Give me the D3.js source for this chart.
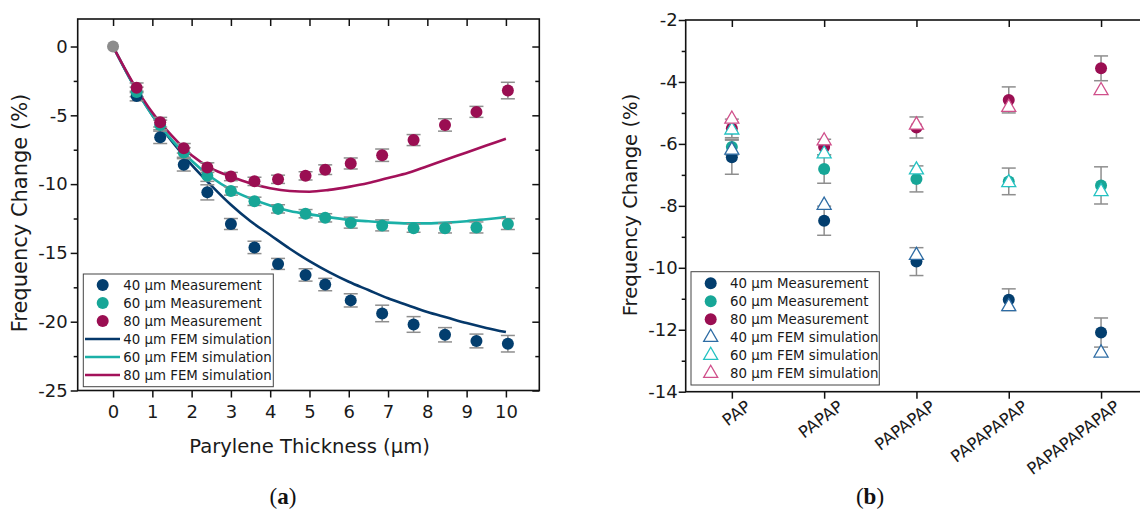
<!DOCTYPE html>
<html><head><meta charset="utf-8">
<script src="https://cdn.jsdelivr.net/npm/d3@7"></script>
<style>
body{margin:0;background:#fff;}
svg{display:block;font-family:"DejaVu Sans",sans-serif;}
</style>
</head><body>
<svg id="c" width="1140" height="514"></svg>
<script>
// ---------- Panel (a) data ----------
const thickness = [0, 0.6, 1.2, 1.8, 2.4, 3.0, 3.6, 4.2, 4.9, 5.4, 6.05, 6.85, 7.65, 8.45, 9.25, 10.05];
const meas40 = [0, -3.6, -6.6, -8.6, -10.6, -12.9, -14.6, -15.8, -16.6, -17.3, -18.45, -19.4, -20.2, -20.95, -21.4, -21.6];
const err40  = [0, 0.35, 0.45, 0.45, 0.55, 0.4, 0.45, 0.4, 0.45, 0.45, 0.48, 0.6, 0.57, 0.52, 0.5, 0.6];
const meas60 = [0, -3.3, -5.7, -7.7, -9.4, -10.5, -11.25, -11.8, -12.15, -12.45, -12.8, -13.0, -13.2, -13.2, -13.15, -12.9];
const err60  = [0, 0.35, 0.35, 0.35, 0.4, 0.3, 0.3, 0.3, 0.3, 0.3, 0.4, 0.4, 0.3, 0.35, 0.4, 0.4];
const meas80 = [0, -3.0, -5.5, -7.4, -8.8, -9.45, -9.8, -9.65, -9.4, -8.95, -8.5, -7.9, -6.8, -5.7, -4.75, -3.2];
const err80  = [0, 0.35, 0.35, 0.35, 0.35, 0.3, 0.3, 0.3, 0.3, 0.35, 0.4, 0.45, 0.4, 0.45, 0.4, 0.6];

const femX  = [0, 0.5, 1, 1.5, 2, 2.5, 3, 3.5, 4, 4.5, 5, 5.5, 6, 6.5, 7, 7.5, 8, 8.5, 9, 9.5, 10];
const fem40 = [0, -2.7, -5.0, -6.9, -8.6, -10.1, -11.5, -12.7, -13.7, -14.7, -15.6, -16.4, -17.1, -17.7, -18.3, -18.8, -19.3, -19.7, -20.1, -20.45, -20.75];
const fem60 = [0, -2.7, -5.0, -6.8, -8.3, -9.5, -10.4, -11.05, -11.55, -11.95, -12.2, -12.4, -12.6, -12.7, -12.8, -12.85, -12.85, -12.8, -12.7, -12.55, -12.4];
const fem80 = [0, -2.6, -4.8, -6.5, -7.9, -8.85, -9.45, -9.95, -10.3, -10.5, -10.55, -10.42, -10.2, -9.92, -9.55, -9.2, -8.7, -8.2, -7.7, -7.2, -6.7];

const xTicksA = [0, 1, 2, 3, 4, 5, 6, 7, 8, 9, 10];
const yTicksA = [0, -5, -10, -15, -20, -25];
const yMinorA = [-2.5, -7.5, -12.5, -17.5, -22.5];

// ---------- Panel (b) data ----------
const structures = ["PAP", "PAPAP", "PAPAPAP", "PAPAPAPAP", "PAPAPAPAPAP"];
const measB40 = [-6.43, -8.48, -9.8, -11.03, -12.09];
const errB40  = [0.55, 0.47, 0.45, 0.35, 0.47];
const measB60 = [-6.1, -6.81, -7.13, -7.21, -7.34];
const errB60  = [0.25, 0.46, 0.42, 0.43, 0.6];
const measB80 = [-5.5, -6.1, -5.47, -4.58, -3.56];
const errB80  = [0.3, 0.25, 0.34, 0.42, 0.4];
const simB40  = [-6.2, -7.98, -9.6, -11.25, -12.75];
const simB60  = [-5.55, -6.32, -6.84, -7.25, -7.54];
const simB80  = [-5.2, -5.9, -5.39, -4.82, -4.28];

const yTicksB = [-2, -4, -6, -8, -10, -12, -14];
const yMinorB = [-3, -5, -7, -9, -11, -13];

const legendLabels = ["40 µm Measurement", "60 µm Measurement", "80 µm Measurement",
                      "40 µm FEM simulation", "60 µm FEM simulation", "80 µm FEM simulation"];

// ---------- styling ----------
const C40 = "#033e6e", C60 = "#17a697", C80 = "#9a0e52";
const L40 = "#05386a", L60 = "#1bb0a7", L80 = "#a3115a";
const T40 = "#2e6ca4", T60 = "#25c2c2", T80 = "#d0508b";
const ERR = "#8e8e8e";

const svg = d3.select("#c");

function drawAxes(g, x, y, box, xTicks, yTicks, yMinor, showXLabels, yPad) {
  const fmt = d => String(d);
  const bottom = g.append("g").attr("transform", `translate(0,${box.b})`)
    .call(d3.axisBottom(x).tickValues(xTicks).tickSize(7).tickPadding(8)
      .tickFormat(showXLabels ? fmt : ""));
  const top = g.append("g").attr("transform", `translate(0,${box.t})`)
    .call(d3.axisTop(x).tickValues(xTicks).tickSize(-7).tickFormat(""));
  const left = g.append("g").attr("transform", `translate(${box.l},0)`)
    .call(d3.axisLeft(y).tickValues(yTicks).tickSize(7).tickPadding(yPad).tickFormat(fmt));
  const leftMinor = g.append("g").attr("transform", `translate(${box.l},0)`)
    .call(d3.axisLeft(y).tickValues(yMinor).tickSize(4).tickFormat(""));
  const right = g.append("g").attr("transform", `translate(${box.r},0)`)
    .call(d3.axisRight(y).tickValues(yTicks).tickSize(-7).tickFormat(""));
  const rightMinor = g.append("g").attr("transform", `translate(${box.r},0)`)
    .call(d3.axisRight(y).tickValues(yMinor).tickSize(-4).tickFormat(""));
  [bottom, top, left, leftMinor, right, rightMinor].forEach(a => {
    a.select(".domain").remove();
    a.selectAll("line").attr("stroke", "#111").attr("stroke-width", 1.5);
    a.selectAll("text").attr("fill", "#1a1a1a").attr("font-family", "DejaVu Sans");
  });
  g.append("rect").attr("x", box.l).attr("y", box.t)
    .attr("width", box.r - box.l).attr("height", box.b - box.t)
    .attr("fill", "none").attr("stroke", "#111").attr("stroke-width", 1.6);
  return {bottom, left};
}

function errorBars(g, xs, ys, es, x, y, capW) {
  xs.forEach((xv, i) => {
    if (!es[i]) return;
    const px = x(xv), y1 = y(ys[i] + es[i]), y2 = y(ys[i] - es[i]);
    g.append("line").attr("x1", px).attr("x2", px).attr("y1", y1).attr("y2", y2)
      .attr("stroke", ERR).attr("stroke-width", 1.5);
    [y1, y2].forEach(yy => g.append("line").attr("x1", px - capW/2).attr("x2", px + capW/2)
      .attr("y1", yy).attr("y2", yy).attr("stroke", ERR).attr("stroke-width", 1.5));
  });
}

// ================= Panel (a) =================
const A = {l: 77.7, r: 539.3, t: 19, b: 390.5};
const xA = d3.scaleLinear().domain([-0.9, 10.85]).range([A.l, A.r]);
const yA = d3.scaleLinear().domain([-25, 2]).range([A.b, A.t]);
const gA = svg.append("g");
const axA = drawAxes(gA, xA, yA, A, xTicksA, yTicksA, yMinorA, true, 3);
axA.bottom.selectAll("text").attr("font-size", 18);
axA.left.selectAll("text").attr("font-size", 18);

const line = d3.line().x(d => xA(d[0])).y(d => yA(d[1])).curve(d3.curveMonotoneX);
[[fem40, L40], [fem60, L60], [fem80, L80]].forEach(([vals, col]) => {
  gA.append("path").attr("d", line(femX.map((xv, i) => [xv, vals[i]])))
    .attr("fill", "none").attr("stroke", col).attr("stroke-width", 2.6);
});

errorBars(gA, thickness, meas40, err40, xA, yA, 14);
errorBars(gA, thickness, meas60, err60, xA, yA, 14);
errorBars(gA, thickness, meas80, err80, xA, yA, 14);

[[meas40, C40], [meas60, C60], [meas80, C80]].forEach(([vals, col]) => {
  thickness.forEach((xv, i) => {
    if (i === 0) return;
    gA.append("circle").attr("cx", xA(xv)).attr("cy", yA(vals[i])).attr("r", 6).attr("fill", col);
  });
});
// common origin point
gA.append("circle").attr("cx", xA(thickness[0])).attr("cy", yA(meas40[0])).attr("r", 6).attr("fill", "#8c8c8c");

// axis titles
gA.append("text").attr("x", 309.6).attr("y", 453).attr("text-anchor", "middle")
  .attr("font-size", 19.6).attr("fill", "#1a1a1a").text("Parylene Thickness (µm)");
gA.append("text").attr("transform", "translate(27,213) rotate(-90)").attr("text-anchor", "middle")
  .attr("font-size", 21).attr("fill", "#1a1a1a").text("Frequency Change (%)");

// legend (a)
const legA = gA.append("g");
legA.append("rect").attr("x", 83.3).attr("y", 274).attr("width", 190).attr("height", 112.7)
  .attr("fill", "#fff").attr("stroke", "#444").attr("stroke-width", 1);
const legColsA = [C40, C60, C80, L40, L60, L80];
legendLabels.forEach((lab, i) => {
  const yy = 285 + i * 18;
  if (i < 3) legA.append("circle").attr("cx", 102.7).attr("cy", yy).attr("r", 6).attr("fill", legColsA[i]);
  else legA.append("line").attr("x1", 85).attr("x2", 120).attr("y1", yy).attr("y2", yy)
    .attr("stroke", legColsA[i]).attr("stroke-width", 2.6);
  legA.append("text").attr("x", 123.3).attr("y", yy).attr("dy", "0.36em")
    .attr("font-size", 13.35).attr("fill", "#1a1a1a").text(lab);
});

// ================= Panel (b) =================
const B = {l: 685.7, r: 1147.2, t: 20, b: 391.7};
const idx = structures.map((s, i) => i);
const xB = d3.scaleLinear().domain([-0.5, structures.length - 0.5]).range([B.l, B.r]);
const yB = d3.scaleLinear().domain([-14, -2]).range([B.b, B.t]);
const gB = svg.append("g");
const axB = drawAxes(gB, xB, yB, B, idx, yTicksB, yMinorB, false, 1);
axB.left.selectAll("text").attr("font-size", 18);

// rotated category labels
structures.forEach((s, i) => {
  gB.append("text").attr("text-anchor", "end")
    .attr("transform", `translate(${xB(i) + 20},${B.b + 17}) rotate(-37)`)
    .attr("font-size", 16.5).attr("fill", "#1a1a1a").text(s);
});

errorBars(gB, idx, measB40, errB40, xB, yB, 14);
errorBars(gB, idx, measB60, errB60, xB, yB, 14);
errorBars(gB, idx, measB80, errB80, xB, yB, 14);
// measurement circles
[[measB40, C40], [measB60, C60], [measB80, C80]].forEach(([vals, col]) => {
  vals.forEach((v, i) => gB.append("circle").attr("cx", xB(i)).attr("cy", yB(v)).attr("r", 6).attr("fill", col));
});

const tri = d3.symbol().type(d3.symbolTriangle).size(85);
[[simB40, T40], [simB60, T60], [simB80, T80]].forEach(([vals, col]) => {
  vals.forEach((v, i) => gB.append("path").attr("d", tri())
    .attr("transform", `translate(${xB(i)},${yB(v)})`)
    .attr("fill", "#fff").attr("stroke", col).attr("stroke-width", 1.3));
});

gB.append("text").attr("transform", "translate(637,205) rotate(-90)").attr("text-anchor", "middle")
  .attr("font-size", 19.6).attr("fill", "#1a1a1a").text("Frequency Change (%)");

// legend (b)
const legB = gB.append("g");
legB.append("rect").attr("x", 691).attr("y", 271.7).attr("width", 188.3).attr("height", 113.3)
  .attr("fill", "#fff").attr("stroke", "#444").attr("stroke-width", 1);
const legColsB = [C40, C60, C80, T40, T60, T80];
legendLabels.forEach((lab, i) => {
  const yy = 283.3 + i * 18;
  if (i < 3) legB.append("circle").attr("cx", 710.7).attr("cy", yy).attr("r", 6).attr("fill", legColsB[i]);
  else legB.append("path").attr("d", tri()).attr("transform", `translate(710.7,${yy})`)
    .attr("fill", "#fff").attr("stroke", legColsB[i]).attr("stroke-width", 1.3);
  legB.append("text").attr("x", 730).attr("y", yy).attr("dy", "0.36em")
    .attr("font-size", 13.35).attr("fill", "#1a1a1a").text(lab);
});

// panel captions
[["a", 283], ["b", 870]].forEach(([l, cx]) => {
  const t = svg.append("text").attr("x", cx).attr("y", 504).attr("text-anchor", "middle")
    .attr("font-family", "Liberation Serif, serif").attr("font-size", 23).attr("fill", "#111");
  t.append("tspan").text("(");
  t.append("tspan").attr("font-weight", "bold").text(l);
  t.append("tspan").text(")");
});
</script>
</body></html>
